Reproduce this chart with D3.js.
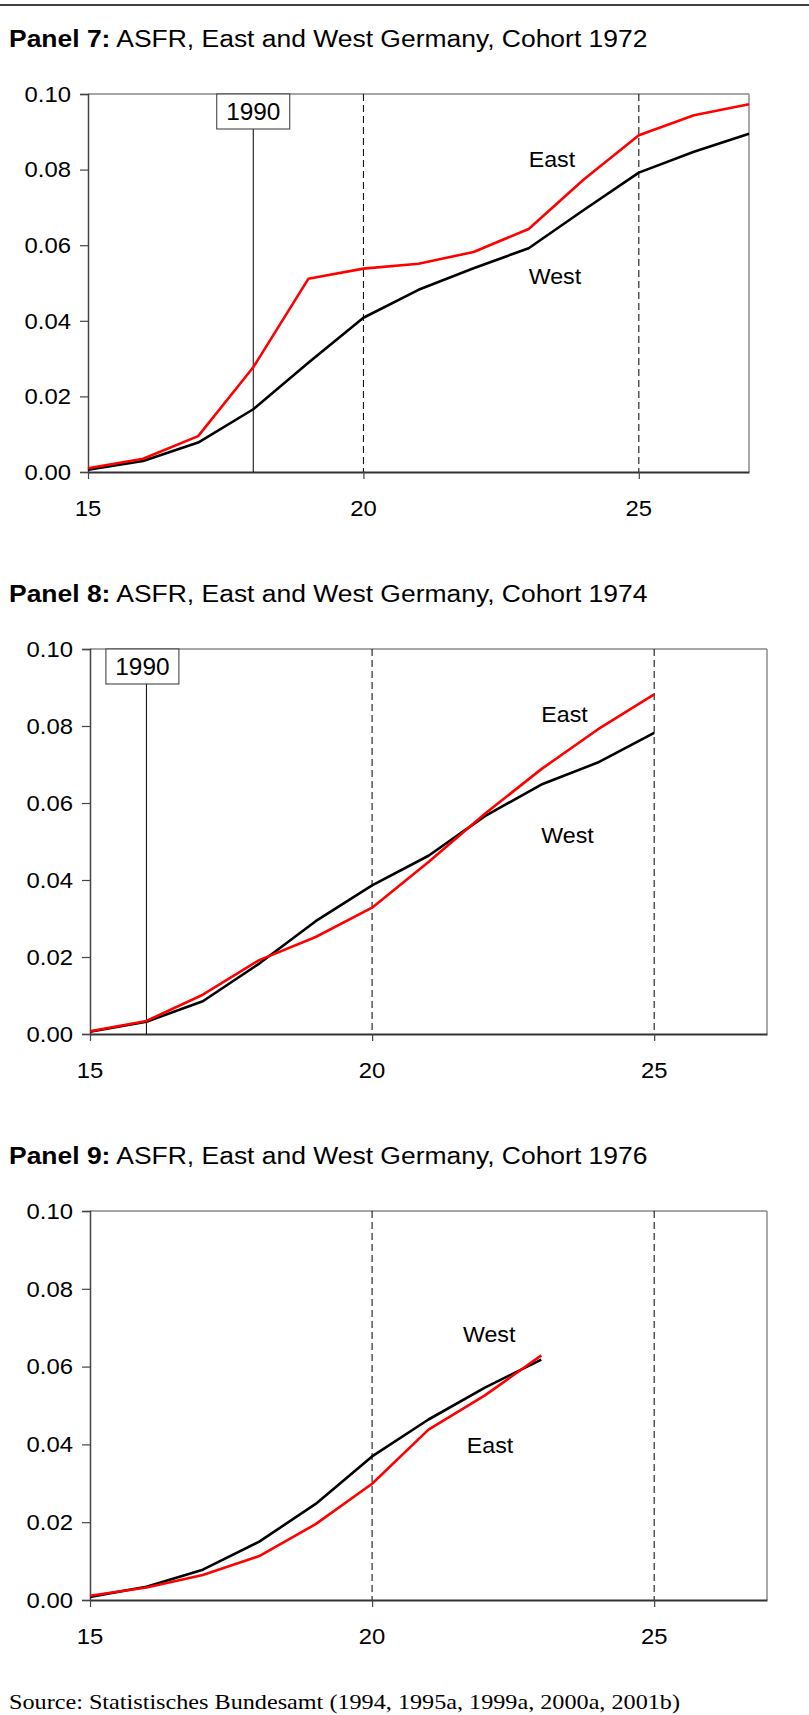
<!DOCTYPE html>
<html>
<head>
<meta charset="utf-8">
<script src="https://cdn.jsdelivr.net/npm/d3@7"></script>
<style>
  html, body { margin: 0; padding: 0; background: #fff; }
  svg { display: block; }
</style>
</head>
<body>
<script>
// Age-specific fertility rates by single year of age, East vs West Germany
const ages = d3.range(15, 28);               // 15 ... 27
const panelNumbers = [7, 8, 9];
const cohorts = [1972, 1974, 1976];

const east1972 = [0.0010, 0.0035, 0.0095, 0.0277, 0.0511, 0.0538, 0.0551, 0.0582, 0.0643, 0.0774, 0.0891, 0.0944, 0.0973];
const west1972 = [0.0006, 0.0029, 0.0078, 0.0166, 0.0289, 0.0408, 0.0482, 0.0539, 0.0592, 0.0693, 0.0792, 0.0847, 0.0895];

const east1974 = [0.0007, 0.0034, 0.0102, 0.0192, 0.0252, 0.0328, 0.0447, 0.0572, 0.0688, 0.0791, 0.0882];
const west1974 = [0.0006, 0.0032, 0.0085, 0.0183, 0.0293, 0.0386, 0.0463, 0.0566, 0.0648, 0.0705, 0.0782];

const east1976 = [0.0011, 0.0032, 0.0064, 0.0113, 0.0195, 0.0299, 0.0438, 0.0526, 0.0629];
const west1976 = [0.0008, 0.0034, 0.0078, 0.0150, 0.0247, 0.0369, 0.0464, 0.0546, 0.0618];

// Age reached by each cohort in 1990 (no marker for the 1976 cohort)
const age1990 = [18, 16, null];

const yTicks = [0, 0.02, 0.04, 0.06, 0.08, 0.10];
const xTicks = [15, 20, 25];
const dashedAges = [20, 25];
const markerLabel = "1990";
const sourceNote = "Source: Statistisches Bundesamt (1994, 1995a, 1999a, 2000a, 2001b)";

// ---- layout ----
const W = 809, H = 1715;
const STRETCH = 1.06;   // slightly wide lettering
const sans = "'Liberation Sans', Arial, sans-serif";
const serif = "'Liberation Serif', 'Times New Roman', serif";

const frames = [
  { l: 88, r: 749, t: 94,   b: 472  },
  { l: 90, r: 767, t: 649,  b: 1034 },
  { l: 90, r: 767, t: 1211, b: 1600 }
];
// series label anchors in data units [age, rate]
const labelSpots = [
  { East: [23.0, 0.0807], West: [23.0, 0.0497] },
  { East: [23.0, 0.0810], West: [23.0, 0.0495] },
  { East: [21.68, 0.0378], West: [21.61, 0.0662] }
];
const boxShift = [0, -4, 0];

const seriesByPanel = [
  { east: east1972, west: west1972 },
  { east: east1974, west: west1974 },
  { east: east1976, west: west1976 }
];

const svg = d3.select("body").append("svg")
  .attr("width", W).attr("height", H)
  .attr("viewBox", `0 0 ${W} ${H}`);

svg.append("rect").attr("width", W).attr("height", H).attr("fill", "#fff");

// rule across the top of the page
svg.append("line")
  .attr("x1", 0).attr("x2", W).attr("y1", 5).attr("y2", 5)
  .attr("stroke", "#000").attr("stroke-width", 1.5);

function txt(g, x, y, s, opts) {
  const sx = opts.stretch || STRETCH;
  const t = g.append("text")
    .attr("transform", `translate(${x},${y}) scale(${sx},1)`)
    .attr("font-family", opts.family || sans)
    .attr("font-size", opts.size)
    .attr("fill", "#000")
    .attr("text-anchor", opts.anchor || "start");
  if (opts.baseline) t.attr("dominant-baseline", opts.baseline);
  t.text(s);
  return t;
}

panelNumbers.forEach((num, i) => {
  const f = frames[i];
  const g = svg.append("g");
  const x = d3.scaleLinear().domain([15, 27]).range([f.l, f.r]);
  const y = d3.scaleLinear().domain([0, 0.10]).range([f.b, f.t]);

  // title
  const title = g.append("text")
    .attr("transform", `translate(9,${f.t - 47}) scale(1.08,1)`)
    .attr("font-family", sans).attr("font-size", 24.5).attr("fill", "#000");
  title.append("tspan").attr("font-weight", "bold").text(`Panel ${num}:`);
  title.append("tspan").text(` ASFR, East and West Germany, Cohort ${cohorts[i]}`);

  // frame: light top/right, darker left/bottom axes
  g.append("line").attr("x1", f.l).attr("x2", f.r).attr("y1", f.t).attr("y2", f.t)
    .attr("stroke", "#a6a6a6").attr("stroke-width", 2);
  g.append("line").attr("x1", f.r).attr("x2", f.r).attr("y1", f.t).attr("y2", f.b)
    .attr("stroke", "#8c8c8c").attr("stroke-width", 1.5);

  // dashed reference ages
  g.selectAll("line.dash").data(dashedAges).join("line")
    .attr("class", "dash")
    .attr("x1", d => x(d)).attr("x2", d => x(d))
    .attr("y1", f.t).attr("y2", f.b)
    .attr("stroke", "#000").attr("stroke-width", 1)
    .attr("stroke-dasharray", "7,4");

  // y axis
  const yAxis = d3.axisLeft(y).tickValues(yTicks).tickSize(8).tickFormat(d3.format(".2f"));
  const ya = g.append("g").attr("transform", `translate(${f.l},0)`).call(yAxis);
  ya.select(".domain").attr("stroke", "#444").attr("stroke-width", 1.5);
  ya.selectAll(".tick line").attr("stroke", "#444").attr("stroke-width", 1.2);
  ya.selectAll(".tick text").remove();
  yTicks.forEach(v => {
    txt(g, f.l - 17, y(v), d3.format(".2f")(v), { size: 22.5, anchor: "end", baseline: "central" });
  });

  // x axis
  const xAxis = d3.axisBottom(x).tickValues(xTicks).tickSize(7).tickSizeOuter(0);
  const xa = g.append("g").attr("transform", `translate(0,${f.b})`).call(xAxis);
  xa.select(".domain").attr("stroke", "#333").attr("stroke-width", 2.2);
  xa.selectAll(".tick line").attr("stroke", "#444").attr("stroke-width", 1.2);
  xa.selectAll(".tick text").remove();
  xTicks.forEach(v => {
    txt(g, x(v), f.b + 44, String(v), { size: 22.5, anchor: "middle" });
  });

  // 1990 marker
  if (age1990[i] !== null) {
    const mx = x(age1990[i]);
    const bw = 73, bh = 35;
    const bx = mx - bw / 2 + boxShift[i];
    g.append("line").attr("x1", mx).attr("x2", mx)
      .attr("y1", f.t + bh).attr("y2", f.b)
      .attr("stroke", "#000").attr("stroke-width", 1);
    g.append("rect").attr("x", bx).attr("y", f.t).attr("width", bw).attr("height", bh)
      .attr("fill", "#fff").attr("stroke", "#333").attr("stroke-width", 1);
    txt(g, bx + bw / 2, f.t + bh / 2 + 1, markerLabel, { size: 23, anchor: "middle", baseline: "central" });
  }

  // series
  const line = d3.line().x(d => x(d[0])).y(d => y(d[1]));
  const s = seriesByPanel[i];
  const westPts = s.west.map((v, k) => [ages[k], v]);
  const eastPts = s.east.map((v, k) => [ages[k], v]);
  g.append("path").datum(westPts).attr("d", line)
    .attr("fill", "none").attr("stroke", "#000").attr("stroke-width", 2.6)
    .attr("stroke-linejoin", "round");
  g.append("path").datum(eastPts).attr("d", line)
    .attr("fill", "none").attr("stroke", "#ff0000").attr("stroke-width", 2.6)
    .attr("stroke-linejoin", "round");

  // series labels
  const spots = labelSpots[i];
  Object.keys(spots).forEach(name => {
    const [a, v] = spots[name];
    txt(g, x(a), y(v), name, { size: 21.5, stretch: 1.08 });
  });
});

// source note
txt(svg, 9, 1709, sourceNote, { size: 22, family: serif, stretch: 1.1 });
</script>
</body>
</html>
